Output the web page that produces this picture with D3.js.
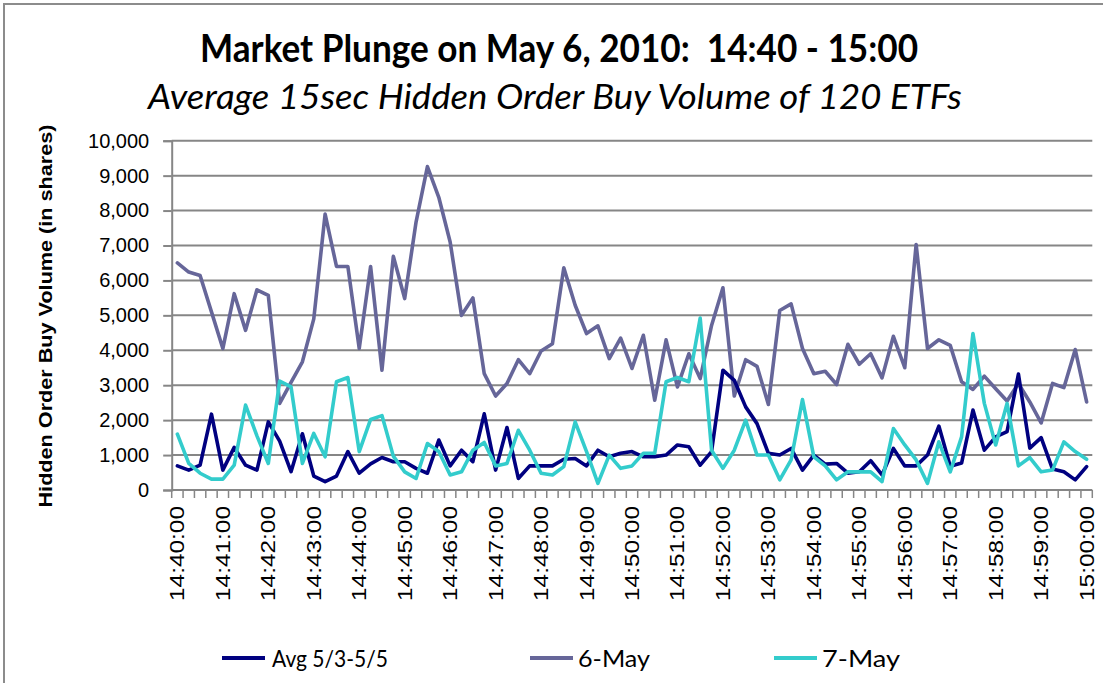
<!DOCTYPE html>
<html>
<head>
<meta charset="utf-8">
<script src="https://cdn.jsdelivr.net/npm/d3@7"></script>
<style>
  html, body { margin: 0; padding: 0; background: #fff; }
  svg { display: block; }
</style>
</head>
<body>
<svg id="chart" width="1103" height="683"></svg>
<script>
// ---------- DATA ----------
const titleText = "Market Plunge on May 6, 2010:  14:40 - 15:00";
const subtitleText = "Average 15sec Hidden Order Buy Volume of 120 ETFs";
const yAxisTitle = "Hidden Order Buy Volume (in shares)";
const seriesNames = ["Avg 5/3-5/5", "6-May", "7-May"];

// 81 categories, 15-second steps from 14:40:00 to 15:00:00
const categories = [];
for (let m = 40; m <= 60; m++) {
  for (let s = 0; s < 60; s += 15) {
    if (m === 60 && s > 0) break;
    const hh = m === 60 ? "15" : "14";
    const mm = m === 60 ? "00" : String(m);
    categories.push(hh + ":" + mm + ":" + String(s).padStart(2, "0"));
  }
}
const tickLabels = ["14:40:00","14:41:00","14:42:00","14:43:00","14:44:00","14:45:00","14:46:00",
  "14:47:00","14:48:00","14:49:00","14:50:00","14:51:00","14:52:00","14:53:00","14:54:00",
  "14:55:00","14:56:00","14:57:00","14:58:00","14:59:00","15:00:00"];
const yTicks = [0,1000,2000,3000,4000,5000,6000,7000,8000,9000,10000];

const avgValues = [690,570,710,2170,570,1220,710,570,1950,1400,
  525,1610,400,240,400,1100,480,750,930,810,
  810,620,480,1430,690,1140,810,2180,570,1790,
  330,690,690,690,880,900,690,1140,950,1050,
  1100,950,950,1000,1290,1240,710,1100,3430,3140,
  2380,1900,1050,1000,1190,570,1000,740,760,480,
  520,840,430,1190,690,690,1000,1830,680,770,
  2290,1140,1520,1670,3320,1200,1500,600,520,290,670];
const may6Values = [6500,6240,6140,5100,4050,5620,4570,5730,5570,2480,
  3080,3670,4900,7900,6400,6400,4050,6400,3430,6690,
  5480,7670,9260,8380,7100,5000,5500,3330,2690,3050,
  3730,3330,3980,4190,6360,5290,4480,4700,3760,4350,
  3480,4430,2570,4300,2950,3900,3190,4710,5790,2690,
  3730,3540,2450,5140,5330,4050,3330,3400,3020,4170,
  3600,3900,3210,4400,3500,7030,4050,4300,4140,3100,
  2880,3260,2900,2550,3050,2520,1920,3050,2930,4020,2520];
const may7Values = [1600,760,480,310,310,710,2430,1550,760,3120,
  2950,760,1620,950,3100,3220,1100,2020,2130,970,
  520,330,1330,1100,430,520,1140,1360,690,760,
  1710,1140,480,430,670,1950,1100,190,1000,620,
  690,1050,1050,3100,3220,3100,4920,1140,620,1140,
  2000,1000,1000,290,860,2590,950,690,290,520,
  520,520,240,1760,1290,860,190,1380,520,1520,
  4480,2480,1290,2480,690,930,520,570,1380,1100,880];

const seriesColors = ["#000080", "#666699", "#33CCCC"];

// ---------- LAYOUT ----------
const svg = d3.select("#chart");
const plot = { left: 171.7, right: 1092.3, top: 140.7, bottom: 490 };
const gridColor = "#868686";

svg.append("rect").attr("x", 0).attr("y", 0).attr("width", 1103).attr("height", 683).attr("fill", "#fff");
// chart border (only top/left visible in the crop)
svg.append("rect").attr("x", 4).attr("y", 4).attr("width", 1120).attr("height", 700)
  .attr("fill", "none").attr("stroke", "#8c8c8c").attr("stroke-width", 2);

const x = d3.scaleBand().domain(categories).range([plot.left, plot.right]).paddingInner(0).paddingOuter(0);
const y = d3.scaleLinear().domain([0, 10000]).range([plot.bottom, plot.top]);
const cx = c => x(c) + x.bandwidth() / 2;

// gridlines + y axis
const yAxis = d3.axisLeft(y).tickValues(yTicks).tickFormat(d3.format(",")).tickSize(8.5).tickPadding(14);
const gy = svg.append("g").attr("transform", `translate(${plot.left},0)`).call(yAxis);
gy.select(".domain").attr("stroke", gridColor).attr("stroke-width", 2);
gy.selectAll(".tick line").attr("stroke", gridColor).attr("stroke-width", 2);
gy.selectAll(".tick text").attr("font-family", "Liberation Sans, Arial, sans-serif")
  .attr("font-size", 20).attr("fill", "#000");

svg.append("g").selectAll("line").data(yTicks.filter(d => d > 0)).join("line")
  .attr("x1", plot.left).attr("x2", plot.right)
  .attr("y1", d => y(d)).attr("y2", d => y(d))
  .attr("stroke", gridColor).attr("stroke-width", 2);

// x axis
const xAxis = d3.axisBottom(x).tickValues(tickLabels).tickSize(0).tickPadding(0);
const gx = svg.append("g").attr("transform", `translate(0,${plot.bottom})`).call(xAxis);
gx.select(".domain").remove();
gx.selectAll(".tick text")
  .attr("font-family", "Liberation Sans, Arial, sans-serif")
  .attr("font-size", 20).attr("fill", "#000")
  .attr("text-anchor", "end")
  .attr("transform", "translate(0,16) rotate(-90)")
  .attr("x", 0).attr("y", 0).attr("dy", "0.35em")
  .attr("textLength", 95).attr("lengthAdjust", "spacingAndGlyphs");

svg.append("line").attr("x1", plot.left).attr("x2", plot.right)
  .attr("y1", plot.bottom).attr("y2", plot.bottom)
  .attr("stroke", gridColor).attr("stroke-width", 2);
const boundaries = categories.map(c => x(c)).concat([plot.right]);
svg.append("g").selectAll("line").data(boundaries).join("line")
  .attr("x1", d => d).attr("x2", d => d)
  .attr("y1", plot.bottom).attr("y2", plot.bottom + 8)
  .attr("stroke", gridColor).attr("stroke-width", 1.5);

// series lines
const allSeries = [avgValues, may6Values, may7Values];
const line = d3.line().x((d, i) => cx(categories[i])).y(d => y(d));
const drawOrder = [1, 0, 2];
drawOrder.forEach(k => {
  svg.append("path").datum(allSeries[k])
    .attr("d", line).attr("fill", "none")
    .attr("stroke", seriesColors[k]).attr("stroke-width", 3.6)
    .attr("stroke-linejoin", "round").attr("stroke-linecap", "round");
});

// titles
svg.append("text").text(titleText)
  .attr("x", 559).attr("y", 62).attr("text-anchor", "middle")
  .attr("xml:space", "preserve").style("white-space", "pre")
  .attr("font-family", "Lato, 'Open Sans', sans-serif").attr("font-weight", "bold")
  .attr("font-size", 38).attr("fill", "#000")
  .attr("textLength", 718).attr("lengthAdjust", "spacingAndGlyphs");
svg.append("text").text(subtitleText)
  .attr("x", 555).attr("y", 109).attr("text-anchor", "middle")
  .attr("font-family", "Lato, 'Open Sans', sans-serif").attr("font-style", "italic")
  .attr("font-size", 34).attr("fill", "#000")
  .attr("textLength", 814).attr("lengthAdjust", "spacingAndGlyphs");
svg.append("text").text(yAxisTitle)
  .attr("transform", "translate(45,316) rotate(-90)")
  .attr("text-anchor", "middle").attr("dy", "0.35em")
  .attr("font-family", "Liberation Sans, Arial, sans-serif").attr("font-weight", "bold")
  .attr("font-size", 19).attr("fill", "#000")
  .attr("textLength", 383).attr("lengthAdjust", "spacingAndGlyphs");

// legend
const legendItems = [
  { name: seriesNames[0], color: seriesColors[0], x0: 222, tx: 272, tl: 116 },
  { name: seriesNames[1], color: seriesColors[1], x0: 530, tx: 578, tl: 72 },
  { name: seriesNames[2], color: seriesColors[2], x0: 774, tx: 822, tl: 78 }
];
const lg = svg.append("g");
legendItems.forEach(it => {
  lg.append("line").attr("x1", it.x0).attr("x2", it.x0 + 43).attr("y1", 658).attr("y2", 658)
    .attr("stroke", it.color).attr("stroke-width", 4);
  lg.append("text").text(it.name).attr("x", it.tx).attr("y", 667)
    .attr("font-family", "Lato, 'Open Sans', sans-serif").attr("font-size", 24).attr("fill", "#000")
    .attr("textLength", it.tl).attr("lengthAdjust", "spacingAndGlyphs");
});
</script>
</body>
</html>
